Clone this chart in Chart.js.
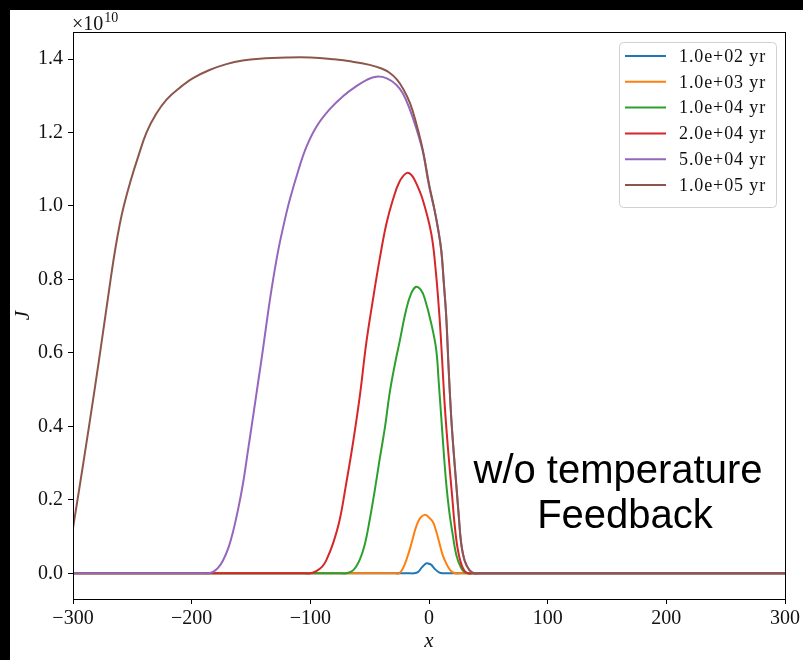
<!DOCTYPE html>
<html><head><meta charset="utf-8">
<script src="https://cdn.jsdelivr.net/npm/chart.js@4.4.1/dist/chart.umd.min.js"></script>
<style>
html,body{margin:0;padding:0;background:#000;width:803px;height:660px;overflow:hidden}
#wrap{position:absolute;left:10px;top:10px;width:793px;height:650px;background:#fff}
canvas{display:block}
</style></head><body>
<div id="wrap"><canvas id="c" width="793" height="650"></canvas></div>
<script>
// ---- data (J in units of 1e10) ----
const seriesLabels = ['1.0e+02 yr','1.0e+03 yr','1.0e+04 yr','2.0e+04 yr','5.0e+04 yr','1.0e+05 yr'];

const x_1e2 = [-300, -17, -13, -9.4, -6, -2.4, 0, 1.9, 4.5, 8.8, 12, 16, 300];
const J_1e2 = [0, 0, 0, 0.003, 0.016, 0.027, 0.026, 0.023, 0.013, 0.002, 0, 0, 0];

const x_1e3 = [-300, -29, -25, -21, -16.4, -13.5, -10.8, -7.5, -3.8, -1, 3.2, 6, 8.8, 11.5, 14.5, 18, 22, 26, 300];
const J_1e3 = [0, 0, 0, 0.02, 0.063, 0.097, 0.127, 0.15, 0.159, 0.155, 0.14, 0.115, 0.082, 0.05, 0.027, 0.008, 0, 0, 0];

const x_1e4 = [-300, -74, -70, -64, -58.5, -54, -50, -46, -41.7, -37, -33.2, -29, -24.8, -19.2, -15, -10.8, -7, -3.8, 1.9, 6.1, 8.2, 10.3, 12.4, 14.5, 17, 20, 23, 27, 30, 33, 37, 300];
const J_1e4 = [0, 0, 0, 0.008, 0.036, 0.08, 0.145, 0.22, 0.308, 0.4, 0.49, 0.565, 0.63, 0.718, 0.762, 0.78, 0.772, 0.75, 0.68, 0.608, 0.52, 0.426, 0.33, 0.245, 0.17, 0.105, 0.05, 0.015, 0.003, 0, 0, 0];

const x_2e4 = [-300, -105, -100, -95, -90, -86.5, -81, -75.3, -70, -64.1, -58, -52.9, -47, -41.7, -36, -30.5, -25, -19.2, -15, -10.8, -5.2, 1.9, 5.5, 8.8, 11, 13, 15, 17.3, 19.5, 21.5, 24, 27, 30, 33, 37, 300];
const J_2e4 = [0, 0, 0, 0.006, 0.018, 0.036, 0.08, 0.145, 0.24, 0.354, 0.49, 0.626, 0.75, 0.853, 0.95, 1.016, 1.065, 1.089, 1.085, 1.062, 1.016, 0.925, 0.83, 0.70, 0.585, 0.47, 0.38, 0.29, 0.21, 0.136, 0.07, 0.027, 0.006, 0, 0, 0];

const x_5e4 = [-300, -190, -186, -182, -178, -173.6, -169, -165, -160.5, -156.7, -152.5, -148.3, -144, -140, -136.5, -132.8, -127.3, -122, -117.4, -110, -103.4, -95, -84, -72, -61.3, -52, -44.4, -36, -27.6, -22, -16.4, -10.8, -5.2, 0, 4.6, 7.5, 10.3, 12.5, 14.5, 16.5, 18.7, 20.8, 22.9, 25, 27.1, 30, 34, 38, 42, 300];
const J_5e4 = [0, 0, 0, 0.004, 0.014, 0.035, 0.07, 0.115, 0.18, 0.245, 0.335, 0.426, 0.52, 0.608, 0.69, 0.771, 0.875, 0.955, 1.016, 1.098, 1.16, 1.215, 1.262, 1.3, 1.326, 1.344, 1.352, 1.348, 1.33, 1.306, 1.265, 1.212, 1.148, 1.055, 0.99, 0.94, 0.88, 0.79, 0.70, 0.56, 0.426, 0.33, 0.245, 0.16, 0.082, 0.035, 0.009, 0, 0, 0];

const x_1e5 = [-300, -296.2, -286.5, -277.2, -268.3, -264.5, -260.6, -257.2, -251.3, -245, -238, -230, -221, -210, -198.8, -185, -170.7, -157, -142.7, -120, -100, -80, -65, -50, -40, -33, -27, -22, -16, -10.8, -5.2, 0, 4.6, 7.5, 10.3, 12.5, 14.5, 16.5, 18.7, 20.8, 22.9, 25, 27.1, 30, 34, 38, 42, 300];
const J_1e5 = [0.123, 0.2, 0.4, 0.6, 0.8, 0.88, 0.95, 1.0, 1.07, 1.135, 1.2, 1.25, 1.29, 1.322, 1.348, 1.37, 1.386, 1.396, 1.401, 1.404, 1.404, 1.399, 1.393, 1.384, 1.374, 1.362, 1.344, 1.32, 1.28, 1.225, 1.152, 1.06, 0.99, 0.94, 0.88, 0.79, 0.70, 0.56, 0.426, 0.33, 0.245, 0.16, 0.082, 0.035, 0.009, 0, 0, 0];

const xTicks = [-300, -200, -100, 0, 100, 200, 300];
const yTicks = [0.0, 0.2, 0.4, 0.6, 0.8, 1.0, 1.2, 1.4];
const yExponentLabel = ['\u00d710', '10'];
const xTitle = 'x';
const yTitle = 'J';
const annotationLines = ['w/o temperature', 'Feedback'];

// ---- styling ----
const seriesX = [x_1e2, x_1e3, x_1e4, x_2e4, x_5e4, x_1e5];
const seriesJ = [J_1e2, J_1e3, J_1e4, J_2e4, J_5e4, J_1e5];
const colors = ['#1f77b4', '#ff7f0e', '#2ca02c', '#d62728', '#9467bd', '#8c564b'];
const SERIF = "'Liberation Serif', 'DejaVu Serif', serif";
const SANS = "'Liberation Sans', Arial, sans-serif";

const datasets = seriesLabels.map((lab, i) => ({
  label: lab,
  data: seriesX[i].map((x, k) => ({x: x, y: seriesJ[i][k]})),
  borderColor: colors[i],
  backgroundColor: colors[i],
  borderWidth: 2,
  pointRadius: 0,
  fill: false,
  tension: 0.4,
  order: seriesLabels.length - 1 - i
}));

const fmtX = v => (v < 0 ? '\u2212' + Math.abs(v) : String(v));

const decor = {
  id: 'decor',
  afterDraw(chart) {
    const ctx = chart.ctx, a = chart.chartArea;
    ctx.save();
    // frame
    ctx.strokeStyle = '#000';
    ctx.lineWidth = 1;
    ctx.strokeRect(Math.round(a.left) + 0.5, Math.round(a.top) + 0.5, Math.round(a.right - a.left), Math.round(a.bottom - a.top));
    // exponent label
    ctx.fillStyle = '#111';
    ctx.textAlign = 'left';
    ctx.textBaseline = 'alphabetic';
    ctx.font = '20px ' + SERIF;
    ctx.fillText(yExponentLabel[0], a.left - 1, a.top - 2);
    const w = ctx.measureText(yExponentLabel[0]).width;
    ctx.font = '14px ' + SERIF;
    ctx.fillText(yExponentLabel[1], a.left - 1 + w + 1, a.top - 10);
    // axis titles
    ctx.font = 'italic 21px ' + SERIF;
    ctx.textAlign = 'center';
    ctx.fillText(xTitle, (a.left + a.right) / 2, 637);
    ctx.save();
    ctx.translate(19, (a.top + a.bottom) / 2);
    ctx.rotate(-Math.PI / 2);
    ctx.fillText(yTitle, 0, 0);
    ctx.restore();
    // legend
    const lx = 609, ly = 32, lw = 157, lh = 165;
    ctx.beginPath();
    if (ctx.roundRect) ctx.roundRect(lx + 0.5, ly + 0.5, lw, lh, 4); else ctx.rect(lx + 0.5, ly + 0.5, lw, lh);
    ctx.fillStyle = 'rgba(255,255,255,0.8)';
    ctx.fill();
    ctx.strokeStyle = '#d0d0d0';
    ctx.lineWidth = 1;
    ctx.stroke();
    ctx.font = '18px ' + SERIF;
    if ('letterSpacing' in ctx) ctx.letterSpacing = '0.9px';
    ctx.textAlign = 'left';
    ctx.textBaseline = 'middle';
    seriesLabels.forEach((lab, i) => {
      const y = ly + 14 + i * 25.8;
      ctx.strokeStyle = colors[i];
      ctx.lineWidth = 2;
      ctx.beginPath();
      ctx.moveTo(615, y);
      ctx.lineTo(656, y);
      ctx.stroke();
      ctx.fillStyle = '#111';
      ctx.fillText(lab, 669, y + 1);
    });
    if ('letterSpacing' in ctx) ctx.letterSpacing = '0px';
    // annotation
    ctx.fillStyle = '#000';
    ctx.font = '40px ' + SANS;
    ctx.textAlign = 'center';
    ctx.textBaseline = 'alphabetic';
    ctx.fillText(annotationLines[0], 608, 473);
    ctx.fillText(annotationLines[1], 615, 518);
    ctx.restore();
  }
};

new Chart(document.getElementById('c'), {
  type: 'line',
  data: { datasets: datasets },
  options: {
    responsive: false,
    animation: false,
    devicePixelRatio: 1,
    layout: { padding: { top: 22, right: 17, left: 0, bottom: 0 } },
    plugins: { legend: { display: false }, tooltip: { enabled: false } },
    scales: {
      x: {
        type: 'linear', position: 'bottom', min: -300, max: 300,
        afterBuildTicks: s => { s.ticks = xTicks.map(v => ({value: v})); },
        afterFit: s => { s.height = 61; },
        ticks: { callback: v => fmtX(v), font: { family: SERIF, size: 20 }, color: '#111', padding: 3, maxRotation: 0, autoSkip: false },
        grid: { drawOnChartArea: false, drawTicks: true, tickLength: 5, tickColor: '#000', tickWidth: 1 },
        border: { display: true, color: '#000', width: 1 }
      },
      y: {
        type: 'linear', min: -0.07, max: 1.4735,
        afterBuildTicks: s => { s.ticks = yTicks.map(v => ({value: v})); },
        afterFit: s => { s.width = 63; },
        ticks: { callback: v => Number(v).toFixed(1), font: { family: SERIF, size: 20 }, color: '#111', padding: 5, autoSkip: false },
        grid: { drawOnChartArea: false, drawTicks: true, tickLength: 5, tickColor: '#000', tickWidth: 1 },
        border: { display: true, color: '#000', width: 1 }
      }
    }
  },
  plugins: [decor]
});
</script>
</body></html>
